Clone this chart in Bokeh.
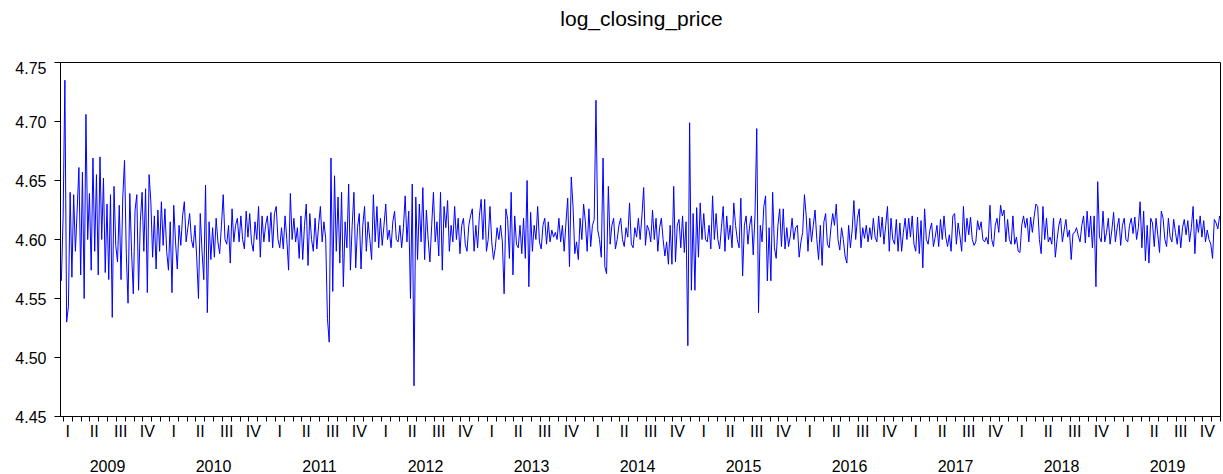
from bokeh.plotting import figure
from bokeh.layouts import column
from bokeh.models import Range1d, LinearAxis, FixedTicker, PrintfTickFormatter, ColumnDataSource
from bokeh.core.properties import value
from bokeh.embed import file_html
from bokeh.resources import INLINE

# ---- data (roughly one value per week) ----
years = list(range(2009, 2020))
quarter_labels = ["I", "II", "III", "IV"]
y_ticks = [4.45, 4.50, 4.55, 4.60, 4.65, 4.70, 4.75]
title_text = "log_closing_price"

v2009 = [4.565, 4.620, 4.735, 4.530, 4.543, 4.640, 4.568, 4.638, 4.590, 4.625,
         4.661, 4.570, 4.657, 4.550, 4.706, 4.600, 4.639, 4.574, 4.669, 4.590,
         4.655, 4.570, 4.670, 4.600, 4.652, 4.572, 4.630, 4.566, 4.638, 4.534,
         4.645, 4.595, 4.581, 4.629, 4.566, 4.636, 4.667, 4.588, 4.546, 4.639,
         4.590, 4.554, 4.625, 4.638, 4.557, 4.615, 4.640, 4.590, 4.643, 4.555,
         4.655, 4.632, 4.585, 4.620, 4.575, 4.625, 4.590]
v2010 = [4.632, 4.595, 4.626, 4.590, 4.574, 4.615, 4.555, 4.629, 4.598, 4.575,
         4.612, 4.595, 4.620, 4.632, 4.598, 4.610, 4.622, 4.600, 4.593, 4.612,
         4.585, 4.550, 4.622, 4.590, 4.566, 4.646, 4.538, 4.615, 4.583, 4.610,
         4.585, 4.618, 4.598, 4.588, 4.612, 4.638, 4.600, 4.596, 4.612, 4.580,
         4.626, 4.598, 4.612, 4.618, 4.598, 4.620, 4.600, 4.592, 4.624, 4.602,
         4.622, 4.598, 4.590, 4.615, 4.600, 4.628, 4.585, 4.620, 4.598, 4.612]
v2011 = [4.620, 4.598, 4.623, 4.593, 4.622, 4.628, 4.600, 4.593, 4.610, 4.592,
         4.620, 4.600, 4.574, 4.639, 4.600, 4.618, 4.598, 4.610, 4.584, 4.620,
         4.583, 4.612, 4.630, 4.578, 4.622, 4.600, 4.590, 4.618, 4.592, 4.612,
         4.628, 4.598, 4.615, 4.601, 4.533, 4.513, 4.669, 4.556, 4.654, 4.590,
         4.636, 4.580, 4.640, 4.560, 4.615, 4.593, 4.647, 4.574, 4.612, 4.640,
         4.576, 4.610, 4.622, 4.575, 4.612, 4.628, 4.590, 4.615, 4.600, 4.583]
v2012 = [4.638, 4.598, 4.628, 4.593, 4.618, 4.595, 4.612, 4.630, 4.600, 4.608,
         4.593, 4.615, 4.624, 4.600, 4.598, 4.612, 4.593, 4.610, 4.637, 4.598,
         4.624, 4.550, 4.647, 4.476, 4.636, 4.583, 4.630, 4.598, 4.644, 4.583,
         4.625, 4.600, 4.581, 4.612, 4.640, 4.598, 4.615, 4.586, 4.640, 4.574,
         4.628, 4.610, 4.633, 4.590, 4.612, 4.598, 4.628, 4.600, 4.618, 4.588,
         4.612, 4.618, 4.596, 4.590, 4.612, 4.620, 4.626, 4.590, 4.612, 4.593]
v2013 = [4.620, 4.634, 4.600, 4.634, 4.590, 4.600, 4.628, 4.598, 4.583, 4.593,
         4.610, 4.600, 4.612, 4.598, 4.554, 4.626, 4.617, 4.584, 4.640, 4.570,
         4.620, 4.596, 4.593, 4.612, 4.588, 4.618, 4.584, 4.650, 4.560, 4.623,
         4.590, 4.612, 4.600, 4.628, 4.598, 4.592, 4.612, 4.618, 4.596, 4.615,
         4.598, 4.608, 4.602, 4.606, 4.600, 4.618, 4.598, 4.612, 4.590, 4.614,
         4.635, 4.577, 4.653, 4.628, 4.588, 4.598, 4.583, 4.618, 4.600, 4.630]
v2014 = [4.615, 4.590, 4.626, 4.594, 4.612, 4.617, 4.718, 4.608, 4.600, 4.585,
         4.669, 4.577, 4.571, 4.645, 4.596, 4.612, 4.618, 4.592, 4.600, 4.612,
         4.618, 4.600, 4.594, 4.610, 4.602, 4.631, 4.596, 4.593, 4.610, 4.602,
         4.618, 4.600, 4.620, 4.644, 4.595, 4.612, 4.608, 4.598, 4.625, 4.600,
         4.618, 4.590, 4.610, 4.618, 4.600, 4.586, 4.598, 4.579, 4.612, 4.579,
         4.645, 4.581, 4.612, 4.617, 4.593, 4.620, 4.589, 4.615, 4.510, 4.699]
v2015 = [4.557, 4.622, 4.557, 4.627, 4.585, 4.631, 4.600, 4.622, 4.600, 4.598,
         4.612, 4.592, 4.637, 4.600, 4.622, 4.600, 4.592, 4.610, 4.628, 4.590,
         4.620, 4.600, 4.612, 4.593, 4.631, 4.612, 4.600, 4.593, 4.635, 4.569,
         4.612, 4.620, 4.596, 4.612, 4.620, 4.587, 4.620, 4.694, 4.538, 4.612,
         4.598, 4.628, 4.637, 4.565, 4.610, 4.565, 4.640, 4.593, 4.584, 4.612,
         4.626, 4.594, 4.626, 4.592, 4.610, 4.594, 4.603, 4.618, 4.600, 4.610]
v2016 = [4.612, 4.585, 4.598, 4.606, 4.638, 4.620, 4.590, 4.618, 4.598, 4.612,
         4.625, 4.600, 4.583, 4.612, 4.578, 4.615, 4.622, 4.596, 4.593, 4.610,
         4.622, 4.612, 4.630, 4.600, 4.591, 4.610, 4.600, 4.586, 4.580, 4.612,
         4.593, 4.608, 4.633, 4.600, 4.618, 4.626, 4.593, 4.610, 4.601, 4.612,
         4.598, 4.610, 4.600, 4.618, 4.602, 4.598, 4.620, 4.602, 4.619, 4.596,
         4.612, 4.628, 4.590, 4.618, 4.600, 4.596, 4.617, 4.590, 4.614, 4.590]
v2017 = [4.606, 4.618, 4.600, 4.618, 4.602, 4.620, 4.596, 4.590, 4.619, 4.588,
         4.616, 4.576, 4.626, 4.600, 4.596, 4.608, 4.614, 4.594, 4.602, 4.612,
         4.594, 4.617, 4.600, 4.620, 4.602, 4.594, 4.604, 4.590, 4.620, 4.622,
         4.596, 4.614, 4.603, 4.590, 4.628, 4.598, 4.618, 4.604, 4.619, 4.600,
         4.595, 4.598, 4.616, 4.608, 4.615, 4.600, 4.598, 4.602, 4.596, 4.629,
         4.600, 4.594, 4.612, 4.618, 4.606, 4.629, 4.620, 4.625, 4.598, 4.617]
v2018 = [4.600, 4.596, 4.620, 4.596, 4.602, 4.590, 4.589, 4.612, 4.620, 4.610,
         4.618, 4.598, 4.619, 4.606, 4.619, 4.630, 4.628, 4.600, 4.588, 4.628,
         4.600, 4.618, 4.598, 4.602, 4.596, 4.618, 4.585, 4.600, 4.612, 4.618,
         4.598, 4.608, 4.617, 4.602, 4.608, 4.583, 4.605, 4.606, 4.610, 4.603,
         4.598, 4.612, 4.620, 4.597, 4.624, 4.602, 4.620, 4.593, 4.620, 4.560,
         4.649, 4.602, 4.598, 4.624, 4.598, 4.606, 4.618, 4.596, 4.608, 4.623]
v2019 = [4.598, 4.610, 4.618, 4.595, 4.612, 4.618, 4.600, 4.598, 4.612, 4.618,
         4.605, 4.619, 4.600, 4.610, 4.632, 4.593, 4.624, 4.582, 4.612, 4.580,
         4.618, 4.614, 4.594, 4.618, 4.604, 4.589, 4.624, 4.618, 4.600, 4.594,
         4.618, 4.602, 4.598, 4.617, 4.606, 4.596, 4.612, 4.593, 4.610, 4.617,
         4.604, 4.616, 4.598, 4.610, 4.628, 4.588, 4.617, 4.606, 4.620, 4.602,
         4.616, 4.598, 4.608, 4.600, 4.596, 4.584, 4.617, 4.614, 4.609, 4.620]

series = [v2009, v2010, v2011, v2012, v2013, v2014, v2015, v2016, v2017, v2018, v2019]

X_START = 2009 + 6 / 106.0
X_END = 2020.0

xs, ys = [], []
for yr, vals in zip(years, series):
    start = max(yr, X_START)
    step = (yr + 1 - start) / len(vals)
    xs += [start + (i + 0.5) * step for i in range(len(vals))]
    ys += vals
src = ColumnDataSource(dict(x=xs, y=ys))

FONT = "Liberation Sans"
W = 1223
TITLE_H = 61
MAIN_H = 474 - TITLE_H

# ---- title strip (a small figure holding only the title text) ----
tp = figure(width=W, height=TITLE_H, output_backend="svg", toolbar_location=None,
            x_range=Range1d(0, W), y_range=Range1d(0, TITLE_H),
            x_axis_type=None, y_axis_type=None,
            min_border=0, min_border_left=0, min_border_right=0,
            min_border_top=0, min_border_bottom=0,
            background_fill_color="white", border_fill_color="white")
tp.title = None
tp.outline_line_color = None
tp.grid.visible = False
tp.text(x=[612.5], y=[TITLE_H - 18], text=[title_text], text_align="center",
        text_baseline="middle", text_font=value(FONT), text_font_size="21px",
        text_color="black")

# ---- main chart ----
p = figure(width=W, height=MAIN_H, output_backend="svg", toolbar_location=None,
           x_range=Range1d(X_START, X_END), y_range=Range1d(4.45, 4.75),
           x_axis_type=None, y_axis_type=None,
           min_border_left=60, min_border_right=3, min_border_top=1, min_border_bottom=0,
           background_fill_color="white", border_fill_color="white")
p.title = None
p.outline_line_color = "black"
p.outline_line_width = 1

p.line("x", "y", source=src, line_color="#0000FF", line_width=1)

# y axis
yax = LinearAxis(ticker=FixedTicker(ticks=y_ticks, minor_ticks=[]),
                 formatter=PrintfTickFormatter(format="%.2f"))
yax.major_tick_out = 6
yax.major_tick_in = 0
yax.minor_tick_out = 0
yax.major_label_standoff = 8
yax.major_label_text_font = FONT
yax.major_label_text_font_size = "16px"
yax.major_label_text_color = "black"
yax.axis_line_color = "black"
p.add_layout(yax, "left")

# x axis: quarter labels at quarter centres, month tick marks
m_starts = [yr + m / 12 for yr in years for m in range(12)] + [2020.0]
q_centers = [yr + (q + 0.5) / 4 for yr in years for q in range(4)]
q_over = {c: quarter_labels[i % 4] for i, c in enumerate(q_centers)}
xq = LinearAxis(ticker=FixedTicker(ticks=q_centers, minor_ticks=m_starts),
                major_label_overrides=q_over)
xq.major_tick_out = 0
xq.major_tick_in = 0
xq.minor_tick_out = 5
xq.minor_tick_in = 0
xq.axis_line_color = "black"
xq.major_label_standoff = 1
xq.major_label_text_font = FONT
xq.major_label_text_font_size = "16px"
xq.major_label_text_color = "black"
p.add_layout(xq, "below")

# year labels
y_centers = [yr + 0.5 for yr in years]
y_over = {c: str(years[i]) for i, c in enumerate(y_centers)}
xy = LinearAxis(ticker=FixedTicker(ticks=y_centers, minor_ticks=[]),
                major_label_overrides=y_over)
xy.major_tick_out = 0
xy.major_tick_in = 0
xy.minor_tick_out = 0
xy.axis_line_color = None
xy.major_label_standoff = 17
xy.major_label_text_font = FONT
xy.major_label_text_font_size = "16px"
xy.major_label_text_color = "black"
p.add_layout(xy, "below")

layout = column(tp, p, spacing=0)

open("out.html", "w").write(file_html(layout, INLINE))
